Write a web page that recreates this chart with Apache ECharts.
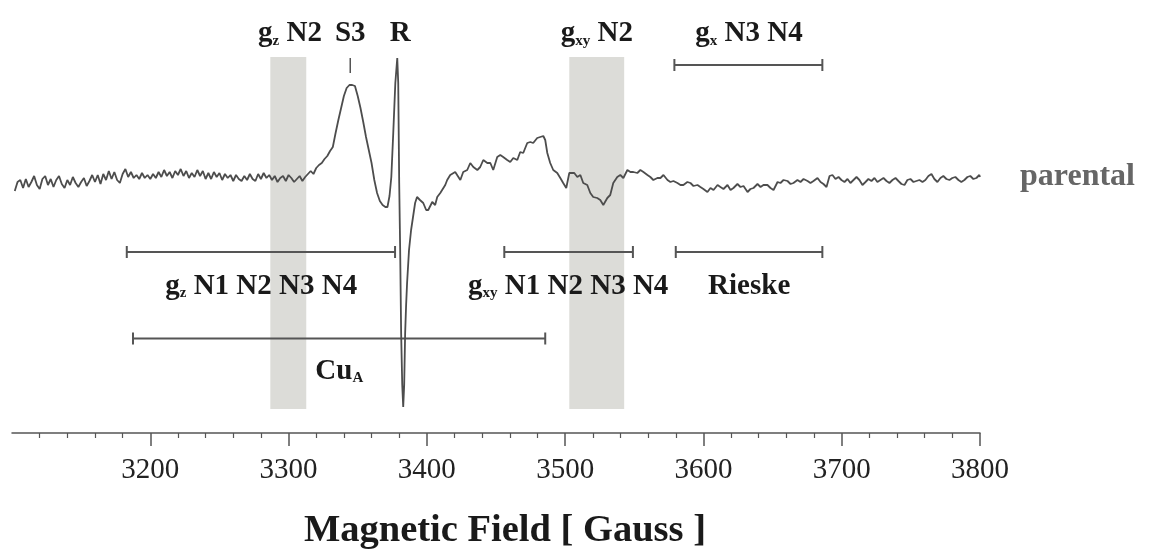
<!DOCTYPE html>
<html>
<head>
<meta charset="utf-8">
<script src="https://cdn.jsdelivr.net/npm/echarts@6/dist/echarts.min.js"></script>
<style>
html,body{margin:0;padding:0;background:#fff;}
#chart{width:1152px;height:549px;}
</style>
</head>
<body>
<div id="chart"></div>
<script>
// ---- EPR spectrum (field in Gauss, signal in arbitrary units) ----
const baselineLow = [
[3102,-13],[3104,-4],[3106,-2],[3108,-10],[3110,-1],[3112,-9],[3114,-4],[3116,2],[3118,-7],[3120,-11],
[3122,-1],[3124,2],[3126,-7],[3128,-1],[3130,-9],[3132,-2],[3134,2],[3136,-6],[3138,-10],[3140,-2],
[3142,-7],[3144,1],[3146,-5],[3148,-9],[3150,-4],[3152,0],[3154,-8],[3156,-3],[3158,3],[3160,-4],
[3162,3],[3164,-6],[3166,4],[3168,-2],[3170,7],[3172,-1],[3174,6],[3176,-2],[3178,-5],[3180,4],
[3182,9],[3184,1],[3186,6],[3188,0],[3190,3],[3192,-1],[3194,5],[3196,0],[3198,3],[3200,-1],
[3202,4],[3204,0],[3206,6],[3208,1],[3210,8],[3212,2],[3214,6],[3216,0],[3218,7],[3220,3],
[3222,9],[3224,2],[3226,7],[3228,0],[3230,5],[3232,1],[3234,8],[3236,2],[3238,7],[3240,-1],
[3242,5],[3244,-1],[3246,6],[3248,1],[3250,5],[3252,-2],[3254,4],[3256,0],[3258,3],[3260,-3],
[3262,3],[3264,-1],[3266,-3],[3268,2],[3270,-2],[3272,4],[3274,-1],[3276,-3],[3278,4],[3280,-1],
[3282,5],[3284,0],[3286,3],[3288,-2],[3290,2],[3292,-4],[3294,0],[3296,2],[3298,-3],[3300,3],
[3302,0],[3304,-4],[3306,-1],[3308,2],[3310,-3],[3312,1],[3314,4],[3316,7],[3318,4]
];
const s3Peak = [
[3320,10],[3322,13],[3324,15],[3326,19],[3328,22],[3330,27],[3332,31],[3334,45],[3336,58],[3338,70],[3340,82],
[3342,90],[3344,93],[3346,93],[3348,92],[3350,82],[3352,70],[3354,56],[3356,41],[3358,28],[3360,15],
[3362,-2],[3364,-15],[3366,-23],[3368,-27],[3370,-29],[3371.5,-29],[3373,-18]
];
const rLine = [
[3374.3,1],[3375.7,45],[3377.2,95],[3378.6,120],[3379.3,95],[3380,-5],[3380.7,-72],[3381.4,-155],
[3382.2,-207],[3382.9,-229],[3383.6,-207],[3384.3,-155],[3385,-127],[3385.7,-105],[3387.1,-72],
[3388.6,-52],[3390,-39],[3391.5,-25],[3392.9,-19]
];
const midField = [
[3395,-22],[3397.4,-25],[3399.5,-32],[3401,-32],[3403.9,-24],[3406,-27],[3407.5,-19],[3409.7,-15],
[3411.1,-14],[3413.3,-7],[3414.7,-2],[3416.9,3],[3418.3,1],[3420.5,6],[3421.9,6],[3424.2,-2],
[3426.3,6],[3429.2,8],[3431.4,15],[3433.6,11],[3436.5,8],[3438.6,11],[3440.8,18],[3443.7,15],
[3445.9,15],[3448,8],[3450.9,21],[3453.1,23],[3455.2,21],[3458.1,18],[3460.3,16],[3462.5,20],
[3465.4,18],[3467.5,26],[3469.7,25],[3472.6,35],[3474.8,36],[3476.9,35],[3479.8,40],[3482,41],
[3484.2,42],[3485.6,38],[3487.1,25],[3489.2,15],[3491.4,8],[3494.3,5],[3496.5,0],[3498.6,-5],
[3500.8,-10],[3503,5],[3504.4,6],[3506.6,5],[3508.8,1],[3511,3],[3513.1,-5],[3516,-7],
[3518.2,-15],[3520.3,-19],[3523.2,-20],[3525.4,-22],[3527.6,-27],[3530.5,-20],[3532.6,-17],
[3534.8,-5],[3537.7,1],[3539.9,3],[3542.1,0],[3545,8],[3547.2,6],[3549.3,6],[3552.2,5],
[3554.4,8],[3556.6,6],[3559.5,3],[3561.6,1],[3563.8,-2],[3566.7,0],[3568.9,0],[3571.1,3],
[3574,-2],[3576.1,-4],[3578.3,-3]
];
const highField = [
[3581.2,-5],[3583.4,-7],[3585.5,-7],[3588.4,-4],[3590.6,-5],[3592.8,-8],[3595.7,-7],[3597.8,-9],
[3600,-11],[3602.9,-14],[3605.1,-10],[3607.3,-12],[3610.2,-7],[3612.3,-9],[3614.5,-11],[3617.4,-7],
[3619.6,-12],[3621.7,-10],[3624.6,-6],[3626.8,-9],[3629,-8],[3631.9,-14],[3634,-11],[3636.2,-10],
[3639.1,-6],[3641.3,-9],[3643.4,-7],[3646.3,-7],[3648.5,-10],[3650.7,-12],[3653.6,-4],[3655.7,-5],
[3657.9,-2],[3660.8,-3],[3663,-6],[3665.1,-5],[3668,-2],[3670.2,-4],[3672.4,-1],[3675.3,-3],
[3677.4,-5],[3679.6,-3],[3682.5,0],[3684.7,-4],[3686.8,-6],[3689,-9],[3691.2,2],[3693.3,3],
[3695.5,-1],[3697.7,1],[3699.8,-2],[3702,-4],[3704.2,-1],[3706.3,-5],[3708.5,-2],[3710.7,1],
[3712.8,-2],[3715,-7],[3717.2,-4],[3719.3,-1],[3721.5,-3],[3723.7,0],[3725.8,-4],[3728,-2],
[3730.2,0],[3732.4,-3],[3734.5,-5],[3736.7,-2],[3738.9,0],[3741,-3],[3743.2,-6],[3745.4,-7],
[3747.5,-2],[3749.7,-1],[3751.9,-4],[3754,-3],[3756.2,-2],[3758.4,-4],[3760.5,-2],[3762.7,2],
[3764.9,4],[3767,-1],[3769.2,-4],[3771.4,0],[3773.5,2],[3775.7,-1],[3777.9,-2],[3780,0],
[3782.2,1],[3784.4,-2],[3786.5,-4],[3788.7,-2],[3790.9,1],[3793,2],[3795.2,-1],[3797.4,0],
[3799.5,3],[3800,1]
];
const seriesName = 'parental';

// ---- axis ticks ----
const tickValues = [3200, 3300, 3400, 3500, 3600, 3700, 3800];
const axisTitle = 'Magnetic Field [ Gauss ]';

// ---- shaded bands [from, to, top, bottom] ----
const bands = [[3286.8, 3312.8, 121, -231], [3503, 3542.7, 121, -231]];

// ---- bracket spans [from, to, level] ----
const spans = [
  [3579, 3686, 113],
  [3183, 3377, -74],
  [3456, 3549, -74],
  [3580, 3686, -74],
  [3187.5, 3485.6, -160.5]
];
// S3 marker [field, low, high]
const s3Mark = [[3344.6, 105, 120]];

// ---- annotation labels [text, field, level] ----
const labels = [
  ['g{s|z} N2', 3301, 144],
  ['S3', 3344.6, 144],
  ['R', 3380.8, 144],
  ['g{s|xy} N2', 3523, 144],
  ['g{s|x} N3 N4', 3633, 144],
  ['g{s|z} N1 N2 N3 N4', 3280.2, -108.5],
  ['g{s|xy} N1 N2 N3 N4', 3502.2, -108.5],
  ['Rieske', 3633.1, -108.5],
  ['Cu{s|A}', 3336.7, -193.5]
];

const FONT = "'Liberation Serif','Times New Roman',serif";
const spectrum = [].concat(baselineLow, s3Peak, rLine, midField, highField);

const chart = echarts.init(document.getElementById('chart'), null, {renderer: 'canvas'});

const option = {
  animation: false,
  backgroundColor: '#ffffff',
  grid: {left: 12, right: 172, top: 0, bottom: 116, containLabel: false},
  xAxis: {
    type: 'value', min: 3100, max: 3800, interval: 100,
    axisLine: {show: true, onZero: false, lineStyle: {color: '#555', width: 1.5}},
    axisTick: {show: true, length: 13, lineStyle: {color: '#555', width: 1.5}, customValues: tickValues},
    minorTick: {show: true, splitNumber: 5, length: 5, lineStyle: {color: '#555', width: 1.2}},
    axisLabel: {customValues: tickValues, margin: 23, fontFamily: FONT, fontSize: 29, color: '#222',
                formatter: function (v) { return String(v); }},
    splitLine: {show: false},
    minorSplitLine: {show: false}
  },
  yAxis: {type: 'value', min: -255, max: 178, show: false},
  graphic: [{
    type: 'text', x: 505, y: 531,
    style: {text: axisTitle, fontFamily: FONT, fontSize: 38.5, fontWeight: 'bold', fill: '#1a1a1a',
            align: 'center', verticalAlign: 'middle'}
  }],
  series: [
    {
      type: 'custom', z: 1, silent: true,
      data: bands,
      renderItem: function (params, api) {
        const a = api.coord([api.value(0), api.value(2)]);
        const b = api.coord([api.value(1), api.value(3)]);
        return {type: 'rect', shape: {x: a[0], y: a[1], width: b[0] - a[0], height: b[1] - a[1]},
                style: {fill: '#dcdcd8'}};
      }
    },
    {
      type: 'custom', z: 2, silent: true,
      data: spans,
      renderItem: function (params, api) {
        const a = api.coord([api.value(0), api.value(2)]);
        const b = api.coord([api.value(1), api.value(2)]);
        const h = 6;
        const st = {stroke: '#555', lineWidth: 2};
        return {type: 'group', children: [
          {type: 'line', shape: {x1: a[0], y1: a[1], x2: b[0], y2: b[1]}, style: st},
          {type: 'line', shape: {x1: a[0], y1: a[1] - h, x2: a[0], y2: a[1] + h}, style: st},
          {type: 'line', shape: {x1: b[0], y1: b[1] - h, x2: b[0], y2: b[1] + h}, style: st}
        ]};
      }
    },
    {
      type: 'custom', z: 2, silent: true,
      data: s3Mark,
      renderItem: function (params, api) {
        const a = api.coord([api.value(0), api.value(1)]);
        const b = api.coord([api.value(0), api.value(2)]);
        return {type: 'line', shape: {x1: a[0], y1: a[1], x2: b[0], y2: b[1]},
                style: {stroke: '#555', lineWidth: 1.5}};
      }
    },
    {
      type: 'custom', z: 4, silent: true,
      data: labels.map(function (l) { return [l[1], l[2]]; }),
      renderItem: function (params, api) {
        const p = api.coord([api.value(0), api.value(1)]);
        return {type: 'text', x: p[0], y: p[1], style: {
          text: labels[params.dataIndex][0],
          fontFamily: FONT, fontSize: 29, fontWeight: 'bold', fill: '#1a1a1a',
          align: 'center', verticalAlign: 'middle',
          rich: {s: {fontFamily: FONT, fontSize: 15, fontWeight: 'bold', fill: '#1a1a1a', verticalAlign: 'bottom'}}
        }};
      }
    },
    {
      type: 'line', name: seriesName, z: 3,
      data: spectrum,
      showSymbol: false, symbol: 'none', clip: false,
      lineStyle: {color: '#4d4d4d', width: 1.8},
      endLabel: {show: true, formatter: seriesName, distance: 40, fontFamily: FONT, fontSize: 32,
                 fontWeight: 'bold', color: '#666'}
    }
  ]
};
chart.setOption(option);
</script>
</body>
</html>
